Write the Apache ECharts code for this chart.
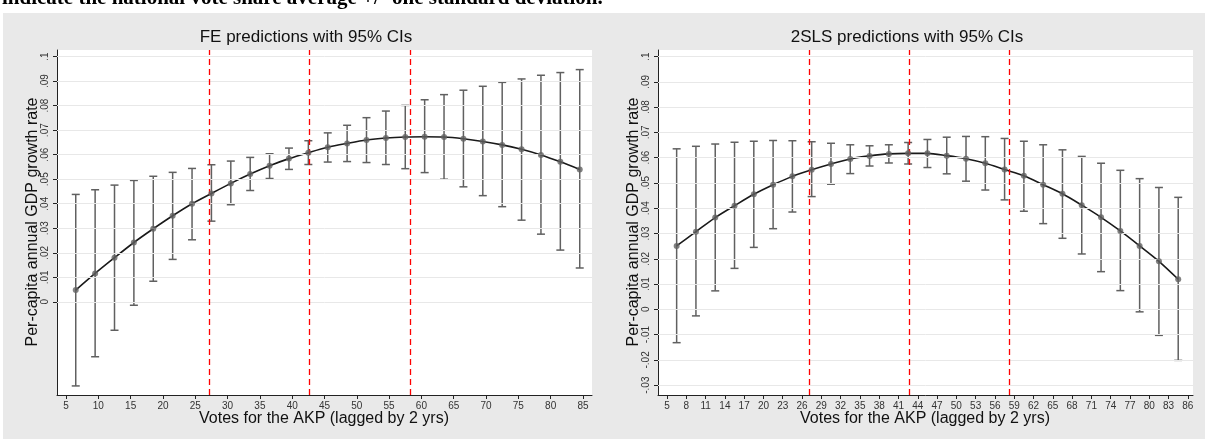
<!DOCTYPE html>
<html>
<head>
<meta charset="utf-8">
<script src="https://cdn.jsdelivr.net/npm/echarts@6/dist/echarts.min.js"></script>
<style>
    html, body { margin: 0; padding: 0; background: #fff; }
    #chart { width: 1205px; height: 439px; }
</style>
</head>
<body>
<div id="chart"></div>
<script>
    // vote share (lagged by 2 yrs) at which predictions were made
    const votes = [6.5, 9.5, 12.5, 15.5, 18.5, 21.5, 24.5, 27.5, 30.5, 33.5, 36.5, 39.5, 42.5, 45.5,
        48.5, 51.5, 54.5, 57.5, 60.5, 63.5, 66.5, 69.5, 72.5, 75.5, 78.5, 81.5, 84.5];

    // FE predictions and 95% CI
    const fePred = [0.0048, 0.0116, 0.018, 0.0242, 0.0298, 0.0351, 0.040, 0.0442, 0.0483, 0.0521, 0.0555, 0.0584, 0.0608, 0.063,
        0.0646, 0.066, 0.0668, 0.0672, 0.0673, 0.0672, 0.0665, 0.0654, 0.064, 0.0622, 0.0599, 0.0571, 0.054];
    const feHi = [0.0438, 0.0457, 0.0476, 0.0495, 0.0512, 0.0528, 0.0544, 0.0559, 0.0574, 0.0589, 0.0604, 0.0627, 0.0657, 0.0689,
        0.072, 0.0751, 0.0778, 0.0801, 0.0824, 0.0845, 0.0863, 0.0879, 0.0895, 0.0909, 0.0924, 0.0935, 0.0947];
    const feLo = [-0.0343, -0.0224, -0.0116, -0.0014, 0.0084, 0.0173, 0.0253, 0.0329, 0.0396, 0.0454, 0.0503, 0.054, 0.056, 0.057,
        0.0572, 0.0568, 0.056, 0.0543, 0.0527, 0.05, 0.0469, 0.0433, 0.0388, 0.0333, 0.0276, 0.0211, 0.0138];

    // 2SLS predictions and 95% CI
    const slsPred = [0.0251, 0.0307, 0.0363, 0.041, 0.0455, 0.0493, 0.0526, 0.0552, 0.0575, 0.0595, 0.0607, 0.0615, 0.0617, 0.0617,
        0.0608, 0.0596, 0.0578, 0.0553, 0.0528, 0.0493, 0.0457, 0.0412, 0.0364, 0.031, 0.0251, 0.019, 0.0119];
    const slsHi = [0.0635, 0.0645, 0.0654, 0.0661, 0.0665, 0.0668, 0.0667, 0.0663, 0.0657, 0.0651, 0.0647, 0.0651, 0.066, 0.0672,
        0.0681, 0.0684, 0.0683, 0.0676, 0.0665, 0.0651, 0.0631, 0.0605, 0.0578, 0.055, 0.0517, 0.0482, 0.0443];
    const slsLo = [-0.0132, -0.0026, 0.0073, 0.0162, 0.0245, 0.0319, 0.0385, 0.0446, 0.0495, 0.0537, 0.0567, 0.0579, 0.0575, 0.0561,
        0.0536, 0.0507, 0.0472, 0.0433, 0.0388, 0.0339, 0.0281, 0.0219, 0.0149, 0.0074, -0.001, -0.0103, -0.0202];

    // national vote share average +/- one sd
    const voteMarks = [27.1, 42.7, 58.3];

    // tick labels
    const xTicksFE = [5, 10, 15, 20, 25, 30, 35, 40, 45, 50, 55, 60, 65, 70, 75, 80, 85];
    const xTicksSLS = [5, 8, 11, 14, 17, 20, 23, 26, 29, 32, 35, 38, 41, 44, 47, 50, 53, 56, 59, 62, 65, 68, 71, 74, 77, 80, 83, 86];
    const yTicksFE = [0, 0.01, 0.02, 0.03, 0.04, 0.05, 0.06, 0.07, 0.08, 0.09, 0.1];
    const yTicksSLS = [-0.03, -0.02, -0.01, 0, 0.01, 0.02, 0.03, 0.04, 0.05, 0.06, 0.07, 0.08, 0.09, 0.1];

    const titles = ['FE predictions with 95% CIs', '2SLS predictions with 95% CIs'];
    const xName = 'Votes for the AKP (lagged by 2 yrs)';
    const yName = 'Per-capita annual GDP growth rate';

    function stataFmt(v) {
        let s = String(+Number(v).toFixed(2));
        return s.replace('0.', '.');
    }

    function errorBar(params, api) {
        const x = api.value(0);
        const pLo = api.coord([x, api.value(1)]);
        const pHi = api.coord([x, api.value(2)]);
        const w = 4;
        const st = { stroke: '#606060', lineWidth: 1.5 };
        return {
            type: 'group',
            children: [
                { type: 'line', shape: { x1: pLo[0], y1: pLo[1], x2: pHi[0], y2: pHi[1] }, style: st },
                { type: 'line', shape: { x1: pLo[0] - w, y1: pLo[1], x2: pLo[0] + w, y2: pLo[1] }, style: st },
                { type: 'line', shape: { x1: pHi[0] - w, y1: pHi[1], x2: pHi[0] + w, y2: pHi[1] }, style: st }
            ]
        };
    }

    function xAxisOf(idx, ticks, max) {
        return {
            gridIndex: idx, type: 'value', min: 3.6, max: max,
            axisLine: { onZero: false, lineStyle: { color: '#222', width: 1 } },
            axisTick: { customValues: ticks, length: 4, lineStyle: { color: '#222' } },
            axisLabel: { customValues: ticks, fontSize: 10, color: '#333', margin: 6, fontFamily: 'Liberation Sans' },
            splitLine: { show: false }
        };
    }

    function yAxisOf(idx, ticks, min, max) {
        return {
            gridIndex: idx, type: 'value', min: min, max: max,
            axisLine: { show: true, onZero: false, lineStyle: { color: '#222', width: 1 } },
            axisTick: { show: true, customValues: ticks, length: 4, lineStyle: { color: '#222' } },
            axisLabel: { customValues: ticks, rotate: 90, fontSize: 10, color: '#333', margin: 7,
                fontFamily: 'Liberation Sans', formatter: stataFmt },
            splitLine: { show: false }
        };
    }

    function seriesOf(idx, pred, lo, hi, yTicks) {
        return [
            {
                type: 'line', xAxisIndex: idx, yAxisIndex: idx, data: [], z: 1, silent: true,
                markLine: {
                    silent: true, symbol: 'none', animation: false,
                    label: { show: false },
                    lineStyle: { color: '#e8e8e8', type: 'solid', width: 1 },
                    data: yTicks.map(v => ({ yAxis: v }))
                }
            },
            {
                type: 'line', xAxisIndex: idx, yAxisIndex: idx, data: [], z: 2, silent: true,
                markLine: {
                    silent: true, symbol: 'none', animation: false,
                    label: { show: false },
                    lineStyle: { color: '#ff0000', type: [6, 4], width: 1.3 },
                    data: voteMarks.map(v => ({ xAxis: v }))
                }
            },
            {
                type: 'custom', xAxisIndex: idx, yAxisIndex: idx, z: 3,
                renderItem: errorBar,
                encode: { x: 0, y: [1, 2] },
                data: votes.map((x, i) => [x, lo[i], hi[i]])
            },
            {
                type: 'line', xAxisIndex: idx, yAxisIndex: idx, z: 4,
                smooth: 0.3, showSymbol: false,
                lineStyle: { color: '#1a1a1a', width: 1.6 },
                data: votes.map((x, i) => [x, pred[i]])
            },
            {
                type: 'scatter', xAxisIndex: idx, yAxisIndex: idx, z: 5,
                symbolSize: 6, itemStyle: { color: '#626262' },
                data: votes.map((x, i) => [x, pred[i]])
            }
        ];
    }

    const textFont = '16px "Liberation Sans", Arial, sans-serif';

    const chart = echarts.init(document.getElementById('chart'));
    chart.setOption({
        animation: false,
        backgroundColor: '#e9e9e9',
        grid: [
            { left: 57, top: 50, width: 535, height: 345, show: true, backgroundColor: '#fff', borderWidth: 0 },
            { left: 658, top: 50, width: 535, height: 345, show: true, backgroundColor: '#fff', borderWidth: 0 }
        ],
        xAxis: [xAxisOf(0, xTicksFE, 86.4), xAxisOf(1, xTicksSLS, 86.8)],
        yAxis: [yAxisOf(0, yTicksFE, -0.038, 0.1027), yAxisOf(1, yTicksSLS, -0.0339, 0.1026)],
        graphic: [
            { type: 'rect', shape: { x: 0, y: 0, width: 1205, height: 13 }, style: { fill: '#fff' } },
            { type: 'rect', shape: { x: 0, y: 0, width: 3, height: 439 }, style: { fill: '#fff' } },
            { type: 'text', x: 2, y: -1, style: { text: 'indicate the national vote share average +/- one standard deviation.',
                font: 'bold 21px "Liberation Serif", "Times New Roman", serif', fill: '#000', textVerticalAlign: 'middle' } },
            { type: 'text', x: 306, y: 37, style: { text: titles[0], font: '17px "Liberation Sans", Arial, sans-serif', fill: '#111', textAlign: 'center', textVerticalAlign: 'middle' } },
            { type: 'text', x: 907, y: 37, style: { text: titles[1], font: '17px "Liberation Sans", Arial, sans-serif', fill: '#111', textAlign: 'center', textVerticalAlign: 'middle' } },
            { type: 'text', x: 324, y: 419, style: { text: xName, font: textFont, fill: '#111', textAlign: 'center', textVerticalAlign: 'middle' } },
            { type: 'text', x: 925, y: 419, style: { text: xName, font: textFont, fill: '#111', textAlign: 'center', textVerticalAlign: 'middle' } },
            { type: 'text', x: 33, y: 222, rotation: Math.PI / 2, style: { text: yName, font: textFont, fill: '#111', textAlign: 'center', textVerticalAlign: 'middle' } },
            { type: 'text', x: 634, y: 222, rotation: Math.PI / 2, style: { text: yName, font: textFont, fill: '#111', textAlign: 'center', textVerticalAlign: 'middle' } }
        ],
        series: seriesOf(0, fePred, feLo, feHi, yTicksFE).concat(seriesOf(1, slsPred, slsLo, slsHi, yTicksSLS))
    });
</script>
</body>
</html>
